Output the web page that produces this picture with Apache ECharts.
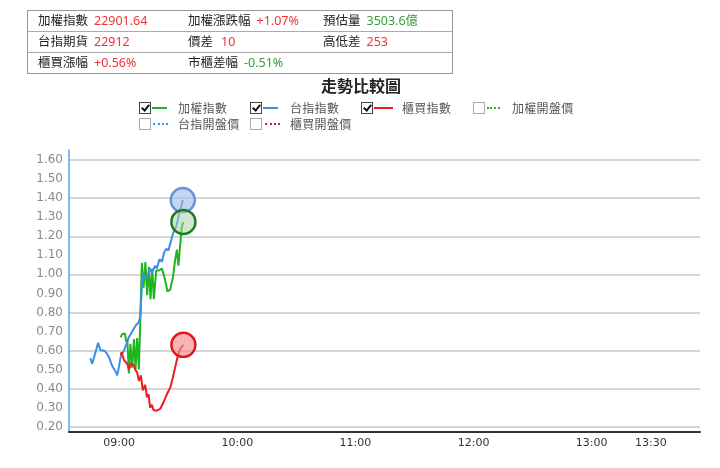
<!DOCTYPE html>
<html lang="zh-Hant">
<head>
<meta charset="UTF-8">
<title>走勢比較圖</title>
<script src="https://cdn.jsdelivr.net/npm/echarts@6.0.0/dist/echarts.min.js"></script>
<style>
    body { margin: 0; background: #fff; font-family: "Noto Sans", "Noto Sans CJK TC", sans-serif; }
    #main { position: absolute; left: 0; top: 0; width: 720px; height: 468px; }
    /* 上方資訊表 */
    #info { position: absolute; left: 27px; top: 10px; width: 424px; border: 1.5px solid #999; z-index: 2; }
    #info .row { height: 20px; line-height: 20px; border-top: 1px solid #aaa; position: relative; font-size: 12.5px; color: #222; }
    #info .row:first-child { border-top: none; }
    #info .cell { position: absolute; top: 0; white-space: nowrap; }
    #info .v { margin-left: 6px; }
    .up { color: #ee3338; }
    .dn { color: #3a9a3a; }
    /* 圖例 */
    .lg { position: absolute; z-index: 2; font-size: 12px; color: #555; font-family: "Noto Sans CJK TC", sans-serif; letter-spacing: .3px; }
    .box { position: absolute; width: 10px; height: 10px; border: 1px solid #aaa; background: #fff; z-index: 2; }
    .box.on { border-color: #444; }
    .box.on:after { content: ""; position: absolute; left: 3px; top: 0px; width: 3px; height: 6px; border: solid #111; border-width: 0 2px 2px 0; transform: rotate(40deg); }
    .ln { position: absolute; height: 0; width: 15px; z-index: 2; }
</style>
</head>
<body>
<div id="main"></div>

<div id="info">
    <div class="row">
        <span class="cell" style="left:10px">加權指數<span class="v up">22901.64</span></span>
        <span class="cell" style="left:160px">加權漲跌幅<span class="v up">+1.07%</span></span>
        <span class="cell" style="left:295px">預估量<span class="v dn">3503.6億</span></span>
    </div>
    <div class="row">
        <span class="cell" style="left:10px">台指期貨<span class="v up">22912</span></span>
        <span class="cell" style="left:160px">價差<span class="v up" style="margin-left:8px">10</span></span>
        <span class="cell" style="left:295px">高低差<span class="v up">253</span></span>
    </div>
    <div class="row">
        <span class="cell" style="left:10px">櫃買漲幅<span class="v up">+0.56%</span></span>
        <span class="cell" style="left:160px">市櫃差幅<span class="v dn">-0.51%</span></span>
    </div>
</div>

<!-- 圖例 第一列 -->
<span class="box on" style="left:139px;top:102px"></span>
<span class="ln" style="left:152px;top:107px;border-top:2px solid #21b421"></span>
<span class="lg" style="left:178px;top:99px">加權指數</span>
<span class="box on" style="left:250px;top:102px"></span>
<span class="ln" style="left:263px;top:107px;border-top:2px solid #3b8fe6"></span>
<span class="lg" style="left:290px;top:99px">台指指數</span>
<span class="box on" style="left:361px;top:102px"></span>
<span class="ln" style="left:374px;top:107px;width:19px;border-top:2px solid #ec1c24"></span>
<span class="lg" style="left:402px;top:99px">櫃買指數</span>
<span class="box" style="left:473px;top:102px"></span>
<span class="ln" style="left:487px;top:107px;width:13px;border-top:2px dotted #21b421"></span>
<span class="lg" style="left:512px;top:99px">加權開盤價</span>
<!-- 圖例 第二列 -->
<span class="box" style="left:139px;top:118px"></span>
<span class="ln" style="left:153px;top:123px;border-top:2px dotted #3b8fe6"></span>
<span class="lg" style="left:178px;top:115px">台指開盤價</span>
<span class="box" style="left:250px;top:118px"></span>
<span class="ln" style="left:265px;top:123px;border-top:2px dotted #ec1c24"></span>
<span class="lg" style="left:290px;top:115px">櫃買開盤價</span>

<script type="text/javascript">
    // 時間以當日分鐘數表示 (540 = 09:00)
    var twTime  = [525.3, 526.3, 529.3, 530.5, 532.2, 533.4, 534.8, 536.4, 538.1, 539.0, 539.8, 540.7, 542.4, 543.7, 544.9, 546.6, 548.3, 550.0, 550.7, 551.5, 552.3, 553.2, 554.4, 555.7, 556.6, 558.3, 559.1, 560.5, 561.7, 562.8, 563.9, 565.0, 565.9, 566.8, 567.9, 568.9, 569.8, 570.6, 571.5, 572.3];
    var twValue = [0.56, 0.53, 0.64, 0.60, 0.60, 0.59, 0.565, 0.52, 0.49, 0.47, 0.51, 0.565, 0.60, 0.635, 0.67, 0.70, 0.73, 0.75, 0.78, 0.93, 1.00, 0.985, 0.99, 1.03, 1.01, 1.045, 1.03, 1.08, 1.065, 1.115, 1.135, 1.125, 1.16, 1.195, 1.23, 1.25, 1.285, 1.33, 1.355, 1.39];

    var taiexTime  = [540.7, 541.5, 542.9, 543.6, 544.1, 544.9, 545.7, 546.6, 547.5, 548.3, 549.1, 550.0, 551.5, 552.4, 553.3, 554.2, 555.1, 555.9, 556.8, 557.6, 558.8, 560.0, 561.7, 562.6, 563.3, 564.5, 565.9, 567.3, 568.4, 569.3, 570.1, 571.0, 571.8, 572.6];
    var taiexValue = [0.67, 0.685, 0.69, 0.645, 0.66, 0.48, 0.635, 0.51, 0.66, 0.50, 0.665, 0.50, 1.06, 0.93, 1.065, 0.89, 1.04, 0.87, 1.03, 0.87, 1.02, 1.02, 1.03, 1.00, 0.97, 0.91, 0.92, 0.985, 1.075, 1.13, 1.045, 1.16, 1.25, 1.275];

    var otcTime  = [540.7, 541.2, 542.4, 544.1, 544.9, 546.2, 547.5, 548.1, 549.1, 550.0, 551.0, 552.0, 553.2, 554.1, 554.9, 555.7, 556.6, 557.4, 559.1, 560.8, 562.5, 564.2, 565.9, 567.3, 568.4, 569.6, 571.0, 572.6];
    var otcValue = [0.575, 0.59, 0.55, 0.53, 0.50, 0.535, 0.52, 0.50, 0.485, 0.44, 0.47, 0.39, 0.42, 0.355, 0.37, 0.30, 0.315, 0.288, 0.284, 0.293, 0.328, 0.37, 0.405, 0.46, 0.51, 0.565, 0.61, 0.63];

    var xTicks = [540, 600, 660, 720, 780, 810];
    var yLabels = [0.2, 0.3, 0.4, 0.5, 0.6, 0.7, 0.8, 0.9, 1.0, 1.1, 1.2, 1.3, 1.4, 1.5, 1.6];
    var yGrid = [0.2, 0.4, 0.6, 0.8, 1.0, 1.2, 1.4, 1.6];

    function zip(t, v) {
        var out = [];
        for (var i = 0; i < t.length; i++) out.push([t[i], v[i]]);
        return out;
    }
    function pad(n) { return (n < 10 ? '0' : '') + n; }

    var twData = zip(twTime, twValue);
    var taiexData = zip(taiexTime, taiexValue);
    var otcData = zip(otcTime, otcValue);

    function lineSeries(name, data, color) {
        return {
            name: name, type: 'line', data: data,
            showSymbol: false, symbol: 'none',
            lineStyle: { color: color, width: 2 },
            itemStyle: { color: color },
            z: 2
        };
    }
    // 最後一點的圓圈
    function lastDot(data, fill, border) {
        return {
            type: 'scatter', data: [data[data.length - 1]],
            symbolSize: 24,
            itemStyle: { color: fill, borderColor: border, borderWidth: 2.5, opacity: 1 },
            z: 5
        };
    }

    var myChart = echarts.init(document.getElementById('main'));
    var option = {
        animation: false,
        title: {
            text: '走勢比較圖',
            left: 316, top: 73,
            textStyle: { fontSize: 16, fontWeight: 'bold', color: '#222', fontFamily: 'Noto Sans CJK TC' }
        },
        grid: { left: 69, right: 20, top: 150, bottom: 36 },
        xAxis: {
            type: 'value', min: 514.5, max: 835,
            axisLine: { lineStyle: { color: '#333', width: 2 } },
            axisTick: { show: false },
            splitLine: { show: false },
            axisLabel: {
                customValues: xTicks,
                margin: 6,
                color: '#333', fontSize: 11, fontFamily: 'DejaVu Sans',
                formatter: function (v) { return pad(Math.floor(v / 60)) + ':' + pad(Math.round(v % 60)); }
            }
        },
        yAxis: {
            type: 'value', min: 0.172, max: 1.653,
            axisLine: { show: true, lineStyle: { color: '#5aa2ea', width: 1.5 } },
            axisTick: { show: false, customValues: yGrid },
            splitLine: { show: true, lineStyle: { color: '#c8c8c8', width: 1.5 } },
            axisLabel: {
                customValues: yLabels,
                margin: 6,
                color: '#8a8a8a', fontSize: 12, fontFamily: 'DejaVu Sans',
                formatter: function (v) { return v.toFixed(2); }
            }
        },
        series: [
            lineSeries('加權指數', taiexData, '#21b421'),
            lineSeries('台指指數', twData, '#3b8fe6'),
            lineSeries('櫃買指數', otcData, '#ec1c24'),
            lastDot(twData, 'rgba(160,185,230,0.6)', '#6592dc'),
            lastDot(taiexData, 'rgba(170,210,170,0.55)', '#1f7a1f'),
            lastDot(otcData, 'rgba(245,140,140,0.65)', '#e3141c')
        ]
    };
    myChart.setOption(option);
</script>
</body>
</html>
